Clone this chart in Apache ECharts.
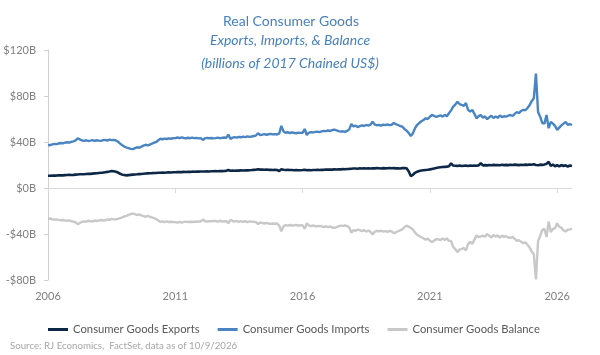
<!DOCTYPE html>
<html>
<head>
<meta charset="utf-8">
<title>Real Consumer Goods</title>
<script src="https://cdn.jsdelivr.net/npm/echarts@6/dist/echarts.min.js"></script>
<style>
  html, body { margin: 0; padding: 0; background: #fff; }
  #chart { width: 600px; height: 355px; }
</style>
</head>
<body>
<div id="chart"></div>
<script>
// 月度数据：2006年1月 ~ 2026年8月（十亿美元，2017年链式美元）
var startYear = 2006;
var monthCount = 248;
var tickYears = ['2006', '2011', '2016', '2021', '2026'];
var yTicks = [-80, -40, 0, 40, 80, 120];

var exportsData = [
  10.6, 10.7, 10.8, 10.9, 10.8, 11.0, 11.1, 11.0, 11.2, 11.3, 11.4, 11.3,
  11.4, 11.6, 11.7, 11.9, 12.0, 12.0, 12.2, 12.4, 12.3, 12.5, 12.7, 12.8,
  13.0, 13.2, 13.4, 13.7, 14.0, 14.3, 14.7, 14.5, 14.1, 13.4, 12.4, 11.6,
  11.3, 11.0, 11.2, 11.4, 11.6, 11.8, 11.9, 12.1, 12.2, 12.4, 12.6, 12.7,
  12.8, 12.9, 13.1, 13.0, 13.2, 13.3, 13.4, 13.3, 13.5, 13.6, 13.5, 13.7,
  13.7, 13.8, 13.9, 13.8, 14.0, 13.9, 14.1, 14.0, 14.2, 14.1, 14.3, 14.2,
  14.3, 14.4, 14.3, 14.5, 14.4, 14.6, 14.5, 14.7, 14.6, 14.8, 14.7, 14.8,
  14.9, 15.7, 15.0, 15.1, 15.0, 15.2, 15.1, 15.3, 15.2, 15.4, 15.3, 15.5,
  15.6, 15.8, 15.9, 16.3, 16.0, 16.1, 15.9, 16.0, 15.8, 15.9, 15.7, 15.8,
  15.6, 14.8, 16.4, 15.9, 15.7, 15.8, 15.6, 15.7, 15.5, 15.6, 15.4, 15.5,
  15.6, 15.8, 15.4, 15.6, 15.5, 15.7, 15.6, 15.8, 15.7, 15.9, 15.8, 16.0,
  16.0, 16.1, 16.0, 16.2, 16.1, 16.3, 16.2, 16.4, 16.3, 16.5, 16.6, 16.8,
  16.9, 17.0, 16.8, 17.1, 17.0, 17.2, 16.9, 17.1, 17.0, 17.2, 17.1, 17.3,
  17.2, 17.0, 17.3, 17.1, 17.2, 17.4, 17.2, 17.3, 17.1, 17.2, 17.0, 17.3,
  17.4, 17.1, 14.5, 10.4, 11.5, 13.2, 14.2, 14.8, 15.2, 15.5, 15.7, 15.9,
  16.2, 16.6, 17.0, 17.4, 17.8, 18.0, 18.2, 18.4, 18.6, 19.0, 21.5, 19.5,
  19.3, 19.2, 19.5, 19.1, 19.4, 19.6, 19.2, 19.5, 19.3, 19.6, 19.4, 19.7,
  21.5, 19.6, 19.9, 19.7, 20.0, 19.8, 20.1, 19.9, 20.0, 19.8, 20.2, 19.9,
  20.1, 19.9, 20.2, 20.0, 20.3, 20.1, 19.9, 20.2, 20.0, 20.3, 20.1, 20.4,
  20.2, 20.6, 20.0, 19.8, 20.3, 20.1, 20.5, 21.0, 22.8, 19.2, 20.4, 18.9,
  19.8, 18.8, 20.0, 19.1, 19.7, 18.7, 19.6, 19.2
];

var importsData = [
  37.5, 37.2, 38.0, 38.4, 38.1, 38.7, 39.1, 38.8, 39.4, 39.8, 39.5, 40.2,
  40.6, 41.4, 43.2, 42.3, 41.3, 41.0, 41.5, 40.9, 41.2, 41.6, 41.0, 41.5,
  41.2, 41.0, 41.6, 41.8, 41.3, 42.0, 41.6, 41.8, 41.3, 40.2, 38.6, 37.2,
  36.0, 35.2, 34.6, 34.0, 33.8, 34.6, 35.4, 35.0, 36.0, 36.8, 37.6, 37.0,
  37.8, 38.5, 39.4, 40.0, 41.5, 42.8, 42.4, 43.0, 42.6, 43.2, 42.8, 43.3,
  43.4, 43.9, 43.3, 44.0, 43.5, 43.1, 43.7, 43.3, 43.8, 43.4, 43.6, 43.2,
  43.4, 41.8, 43.2, 43.6, 43.3, 43.5, 43.1, 43.4, 43.8, 43.3, 43.6, 43.9,
  43.6, 46.4, 42.6, 43.8, 44.2, 43.8, 44.5, 44.1, 44.7, 44.3, 44.9, 44.5,
  44.8, 45.2, 45.6, 47.6, 46.0, 46.4, 46.9, 46.3, 46.7, 47.1, 46.6, 46.9,
  46.5, 47.5, 54.0, 49.2, 48.0, 48.5, 47.8, 48.3, 48.0, 47.6, 48.2, 47.9,
  48.0, 51.3, 46.1, 48.2, 48.6, 48.3, 48.8, 49.0, 48.6, 49.3, 49.7, 49.4,
  50.0, 49.6, 50.4, 50.8, 50.2, 49.5, 49.0, 49.3, 48.9, 49.6, 51.0, 55.7,
  53.5, 54.2, 53.0, 53.8, 54.5, 53.9, 54.8, 54.2, 55.0, 57.7, 55.2, 54.6,
  54.8, 54.2, 55.1, 54.6, 55.3, 54.7, 55.0, 56.5, 55.6, 54.8, 53.9, 53.3,
  51.5, 49.8, 48.0, 45.2, 47.5, 52.0, 54.8, 56.5, 58.0, 59.2, 60.6, 60.0,
  62.0, 63.5, 62.8, 61.8, 62.5, 63.2, 62.0, 63.6, 62.4, 65.0, 67.5, 70.7,
  72.5, 75.0, 73.0, 72.2, 71.5, 73.9, 68.0, 66.4, 67.9, 64.5, 60.6, 62.5,
  63.5, 61.0, 62.3, 59.8, 61.5, 62.8, 60.9, 62.2, 61.0, 63.0, 61.6, 62.4,
  62.0, 63.0, 63.5, 62.6, 64.5, 66.0, 65.2, 67.0, 68.0, 67.6, 69.5, 72.0,
  75.5, 78.0, 99.5, 66.0, 62.0, 56.5, 56.0, 63.5, 52.0, 57.5, 56.0, 54.0,
  50.5, 52.5, 54.5, 56.0, 57.5, 55.0, 55.6, 54.8
];

var balanceData = [
  -26.9, -26.5, -27.2, -27.5, -27.3, -27.7, -28.0, -27.8, -28.2, -28.5, -28.1, -28.9,
  -29.2, -29.8, -31.5, -30.4, -29.3, -29.0, -29.3, -28.5, -28.9, -29.1, -28.3, -28.7,
  -28.2, -27.8, -28.2, -28.1, -27.3, -27.7, -26.9, -27.3, -27.2, -26.8, -26.2, -25.6,
  -24.7, -24.2, -23.4, -22.6, -22.2, -22.8, -23.5, -22.9, -23.8, -24.4, -25.0, -24.3,
  -25.0, -25.6, -26.3, -27.0, -28.3, -29.5, -29.0, -29.7, -29.1, -29.6, -29.3, -29.6,
  -29.7, -30.1, -29.4, -30.2, -29.5, -29.2, -29.6, -29.3, -29.6, -29.3, -29.3, -29.0,
  -29.1, -27.4, -28.9, -29.1, -28.9, -28.9, -28.6, -28.7, -29.2, -28.5, -28.9, -29.1,
  -28.7, -30.7, -27.6, -28.7, -29.2, -28.6, -29.4, -28.8, -29.5, -28.9, -29.6, -29.0,
  -29.2, -29.4, -29.7, -31.3, -30.0, -30.3, -31.0, -30.3, -30.9, -31.2, -30.9, -31.1,
  -30.9, -32.7, -37.6, -33.3, -32.3, -32.7, -32.2, -32.6, -32.5, -32.0, -32.8, -32.4,
  -32.4, -35.5, -30.7, -32.6, -33.1, -32.6, -33.2, -33.2, -32.9, -33.4, -33.9, -33.4,
  -34.0, -33.5, -34.4, -34.6, -34.1, -33.2, -32.8, -32.9, -32.6, -33.1, -34.4, -38.9,
  -36.6, -37.2, -36.2, -36.7, -37.5, -36.7, -37.9, -37.1, -38.0, -40.5, -38.1, -37.3,
  -37.6, -37.2, -37.8, -37.5, -38.1, -37.3, -37.8, -39.2, -38.5, -37.6, -36.9, -36.0,
  -34.1, -32.7, -33.5, -34.8, -36.0, -38.8, -40.6, -41.7, -42.8, -43.7, -44.9, -44.1,
  -45.8, -46.9, -45.8, -44.4, -44.7, -45.2, -43.8, -45.2, -43.8, -46.0, -46.0, -51.2,
  -53.2, -55.8, -53.5, -53.1, -52.1, -54.3, -48.8, -46.9, -48.6, -44.9, -41.2, -42.8,
  -42.0, -41.4, -42.4, -40.1, -41.5, -43.0, -40.8, -42.3, -41.0, -43.2, -41.4, -42.5,
  -41.9, -43.1, -43.3, -42.6, -44.2, -45.9, -45.3, -46.8, -48.0, -47.3, -49.4, -51.6,
  -55.3, -57.4, -79.5, -46.2, -41.7, -36.4, -35.5, -42.5, -29.2, -38.3, -35.6, -35.1,
  -30.7, -33.7, -34.5, -36.9, -37.8, -36.3, -36.0, -35.6
];

// 类目：每月一个
var months = [];
for (var i = 0; i < monthCount; i++) {
  var y = startYear + Math.floor(i / 12);
  var m = (i % 12) + 1;
  months.push(y + '-' + (m < 10 ? '0' + m : m));
}

(function() {
  var myChart = echarts.init(document.getElementById('chart'));
  var font = 'Lato, "Noto Sans", sans-serif';
  // 只在每5年的1月显示标签/刻度
  var isYearTick = function(index, value) {
    return tickYears.indexOf(String(value).slice(0, 4)) > -1 && String(value).slice(5) === '01';
  };

  var option = {
    animation: false,
    textStyle: { fontFamily: font },
    color: ['#0d2847', '#4a85c1', '#c8c8c8'],
    graphic: [
      {
        type: 'text', x: 291, y: 21,
        style: { text: 'Real Consumer Goods', textAlign: 'center', textVerticalAlign: 'middle',
          font: '14px ' + font, fill: '#4a80ba' }
      },
      {
        type: 'text', x: 290, y: 40,
        style: { text: 'Exports, Imports, & Balance', textAlign: 'center', textVerticalAlign: 'middle',
          font: 'italic 14px ' + font, fill: '#4a80ba' }
      },
      {
        type: 'text', x: 290, y: 63,
        style: { text: '(billions of 2017 Chained US$)', textAlign: 'center', textVerticalAlign: 'middle',
          font: 'italic 14px ' + font, fill: '#4a80ba' }
      },
      {
        type: 'text', x: 10, y: 346,
        style: { text: 'Source: RJ Economics,  FactSet, data as of 10/9/2026', textAlign: 'left',
          textVerticalAlign: 'middle', font: '9.7px ' + font, fill: '#a6a6a6' }
      }
    ],
    legend: {
      left: 43,
      top: 319,
      icon: 'rect',
      itemWidth: 20,
      itemHeight: 3,
      itemGap: 18,
      textStyle: { color: '#595959', fontSize: 11.3, fontFamily: font },
      data: ['Consumer Goods Exports', 'Consumer Goods Imports', 'Consumer Goods Balance']
    },
    grid: {
      left: 48,
      right: 28,
      top: 50,
      bottom: 75
    },
    xAxis: [
      {
        // 底部年份标签
        type: 'category',
        data: months,
        boundaryGap: false,
        position: 'bottom',
        axisLine: { show: false, onZero: false },
        axisTick: { show: false },
        axisLabel: {
          interval: isYearTick,
          formatter: function(v) { return v.slice(0, 4); },
          color: '#7f7f7f',
          fontSize: 11,
          margin: 11
        },
        splitLine: { show: false }
      },
      {
        // 零线 + 刻度
        type: 'category',
        data: months,
        boundaryGap: false,
        position: 'top',
        axisLine: { show: true, onZero: true, lineStyle: { color: '#d9d9d9', width: 1 } },
        axisTick: { show: true, inside: true, length: 5, interval: isYearTick,
          lineStyle: { color: '#d9d9d9' } },
        axisLabel: { show: false },
        splitLine: { show: false }
      }
    ],
    yAxis: {
      type: 'value',
      min: yTicks[0],
      max: yTicks[yTicks.length - 1],
      interval: 40,
      axisLine: { show: true, lineStyle: { color: '#d0d0d0' } },
      axisTick: { show: true, length: 4, lineStyle: { color: '#d0d0d0' } },
      axisLabel: {
        color: '#7f7f7f',
        fontSize: 11,
        margin: 12,
        formatter: function(v) { return (v < 0 ? '-' : '') + '$' + Math.abs(v) + 'B'; }
      },
      splitLine: { show: false }
    },
    series: [
      {
        name: 'Consumer Goods Exports',
        type: 'line',
        data: exportsData,
        showSymbol: false,
        lineStyle: { width: 2.6 },
        z: 4
      },
      {
        name: 'Consumer Goods Imports',
        type: 'line',
        data: importsData,
        showSymbol: false,
        lineStyle: { width: 2.4 },
        z: 3
      },
      {
        name: 'Consumer Goods Balance',
        type: 'line',
        data: balanceData,
        showSymbol: false,
        lineStyle: { width: 2.4 },
        z: 2
      }
    ]
  };
  myChart.setOption(option);
  window.addEventListener('resize', function() {
    myChart.resize();
  });
})();
</script>
</body>
</html>
